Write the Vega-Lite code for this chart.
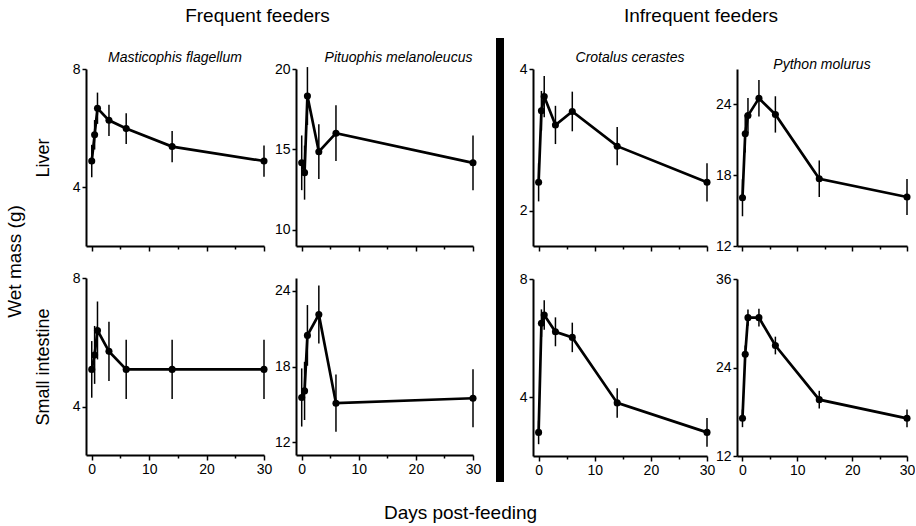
{
  "$schema": "https://vega.github.io/schema/vega-lite/v6.json",
  "padding": {"left": 6, "top": 7, "right": 0, "bottom": 0},
  "datasets": {
    "snakes": [
      {"species": "Masticophis flagellum", "tissue": "Liver", "day": 0, "mass": 4.88, "se": 0.55},
      {"species": "Masticophis flagellum", "tissue": "Liver", "day": 0.5, "mass": 5.77, "se": 0.5},
      {"species": "Masticophis flagellum", "tissue": "Liver", "day": 1, "mass": 6.67, "se": 0.53},
      {"species": "Masticophis flagellum", "tissue": "Liver", "day": 3, "mass": 6.26, "se": 0.53},
      {"species": "Masticophis flagellum", "tissue": "Liver", "day": 6, "mass": 5.98, "se": 0.52},
      {"species": "Masticophis flagellum", "tissue": "Liver", "day": 14, "mass": 5.37, "se": 0.53},
      {"species": "Masticophis flagellum", "tissue": "Liver", "day": 30, "mass": 4.88, "se": 0.53},
      {"species": "Pituophis melanoleucus", "tissue": "Liver", "day": 0, "mass": 14.17, "se": 1.7},
      {"species": "Pituophis melanoleucus", "tissue": "Liver", "day": 0.5, "mass": 13.56, "se": 1.68},
      {"species": "Pituophis melanoleucus", "tissue": "Liver", "day": 1, "mass": 18.32, "se": 1.8},
      {"species": "Pituophis melanoleucus", "tissue": "Liver", "day": 3, "mass": 14.86, "se": 1.7},
      {"species": "Pituophis melanoleucus", "tissue": "Liver", "day": 6, "mass": 16.01, "se": 1.73},
      {"species": "Pituophis melanoleucus", "tissue": "Liver", "day": 30, "mass": 14.17, "se": 1.7},
      {"species": "Crotalus cerastes", "tissue": "Liver", "day": 0, "mass": 2.4, "se": 0.27},
      {"species": "Crotalus cerastes", "tissue": "Liver", "day": 0.5, "mass": 3.41, "se": 0.28},
      {"species": "Crotalus cerastes", "tissue": "Liver", "day": 1, "mass": 3.61, "se": 0.29},
      {"species": "Crotalus cerastes", "tissue": "Liver", "day": 3, "mass": 3.21, "se": 0.27},
      {"species": "Crotalus cerastes", "tissue": "Liver", "day": 6, "mass": 3.4, "se": 0.28},
      {"species": "Crotalus cerastes", "tissue": "Liver", "day": 14, "mass": 2.91, "se": 0.27},
      {"species": "Crotalus cerastes", "tissue": "Liver", "day": 30, "mass": 2.4, "se": 0.27},
      {"species": "Python molurus", "tissue": "Liver", "day": 0, "mass": 16.09, "se": 1.57},
      {"species": "Python molurus", "tissue": "Liver", "day": 0.5, "mass": 21.52, "se": 1.6},
      {"species": "Python molurus", "tissue": "Liver", "day": 1, "mass": 23.05, "se": 1.5},
      {"species": "Python molurus", "tissue": "Liver", "day": 3, "mass": 24.52, "se": 1.54},
      {"species": "Python molurus", "tissue": "Liver", "day": 6, "mass": 23.15, "se": 1.54},
      {"species": "Python molurus", "tissue": "Liver", "day": 14, "mass": 17.7, "se": 1.55},
      {"species": "Python molurus", "tissue": "Liver", "day": 30, "mass": 16.15, "se": 1.53},
      {"species": "Masticophis flagellum", "tissue": "Small intestine", "day": 0, "mass": 5.16, "se": 0.88},
      {"species": "Masticophis flagellum", "tissue": "Small intestine", "day": 0.5, "mass": 5.61, "se": 0.9},
      {"species": "Masticophis flagellum", "tissue": "Small intestine", "day": 1, "mass": 6.37, "se": 0.9},
      {"species": "Masticophis flagellum", "tissue": "Small intestine", "day": 3, "mass": 5.72, "se": 0.92},
      {"species": "Masticophis flagellum", "tissue": "Small intestine", "day": 6, "mass": 5.16, "se": 0.92},
      {"species": "Masticophis flagellum", "tissue": "Small intestine", "day": 14, "mass": 5.16, "se": 0.92},
      {"species": "Masticophis flagellum", "tissue": "Small intestine", "day": 30, "mass": 5.16, "se": 0.92},
      {"species": "Pituophis melanoleucus", "tissue": "Small intestine", "day": 0, "mass": 15.55, "se": 2.3},
      {"species": "Pituophis melanoleucus", "tissue": "Small intestine", "day": 0.5, "mass": 16.07, "se": 2.3},
      {"species": "Pituophis melanoleucus", "tissue": "Small intestine", "day": 1, "mass": 20.46, "se": 2.4},
      {"species": "Pituophis melanoleucus", "tissue": "Small intestine", "day": 3, "mass": 22.11, "se": 2.3},
      {"species": "Pituophis melanoleucus", "tissue": "Small intestine", "day": 6, "mass": 15.1, "se": 2.27},
      {"species": "Pituophis melanoleucus", "tissue": "Small intestine", "day": 30, "mass": 15.49, "se": 2.3},
      {"species": "Crotalus cerastes", "tissue": "Small intestine", "day": 0, "mass": 2.8, "se": 0.4},
      {"species": "Crotalus cerastes", "tissue": "Small intestine", "day": 0.5, "mass": 6.5, "se": 0.47},
      {"species": "Crotalus cerastes", "tissue": "Small intestine", "day": 1, "mass": 6.78, "se": 0.5},
      {"species": "Crotalus cerastes", "tissue": "Small intestine", "day": 3, "mass": 6.21, "se": 0.49},
      {"species": "Crotalus cerastes", "tissue": "Small intestine", "day": 6, "mass": 6.02, "se": 0.5},
      {"species": "Crotalus cerastes", "tissue": "Small intestine", "day": 14, "mass": 3.8, "se": 0.5},
      {"species": "Crotalus cerastes", "tissue": "Small intestine", "day": 30, "mass": 2.8, "se": 0.49},
      {"species": "Python molurus", "tissue": "Small intestine", "day": 0, "mass": 17.11, "se": 1.2},
      {"species": "Python molurus", "tissue": "Small intestine", "day": 0.5, "mass": 25.78, "se": 1.2},
      {"species": "Python molurus", "tissue": "Small intestine", "day": 1, "mass": 30.76, "se": 1.1},
      {"species": "Python molurus", "tissue": "Small intestine", "day": 3, "mass": 30.76, "se": 1.2},
      {"species": "Python molurus", "tissue": "Small intestine", "day": 6, "mass": 26.98, "se": 1.2},
      {"species": "Python molurus", "tissue": "Small intestine", "day": 14, "mass": 19.64, "se": 1.2},
      {"species": "Python molurus", "tissue": "Small intestine", "day": 30, "mass": 17.11, "se": 1.2}
    ],
    "sep": [{"from": -1.333, "to": 1.175}]
  },
  "data": {"name": "snakes"},
  "title": {"text": "Days post-feeding", "orient": "bottom", "anchor": "middle", "fontSize": 19, "offset": 22},
  "spacing": 15,
  "hconcat": [
    {
      "title": {"text": "Wet mass (g)", "orient": "left", "anchor": "middle", "fontSize": 19, "offset": 9, "dx": -20},
      "hconcat": [
        {
          "title": {"text": "Frequent feeders", "anchor": "middle", "fontSize": 19, "offset": 25},
          "columns": 2,
          "spacing": {"row": 19, "column": 2},
          "concat": [
            {
              "width": 178, "height": 177,
              "title": {"text": "Masticophis flagellum", "fontStyle": "italic", "fontSize": 14, "frame": "group", "offset": -3},
              "transform": [{"filter": "datum.species == 'Masticophis flagellum' && datum.tissue == 'Liver'"}],
              "encoding": {
                "x": {"field": "day", "type": "quantitative", "scale": {"domain": [-1, 30], "nice": false, "zero": false}, "axis": {"title": null, "labels": false, "values": [0, 5, 10, 15, 20, 25, 30], "tickSize": {"condition": {"test": "datum.value % 10 === 0", "value": 5}, "value": 3}}},
                "y": {"field": "mass", "type": "quantitative", "scale": {"domain": [2, 8], "nice": false, "zero": false}, "axis": {"title": "Liver", "values": [4, 8]}}
              },
              "layer": [
                {"mark": {"type": "errorbar", "ticks": false, "thickness": 1.5, "color": "black"}, "encoding": {"yError": {"field": "se"}}},
                {"mark": {"type": "line", "color": "black", "strokeWidth": 2.7}},
                {"mark": {"type": "point", "filled": true, "color": "black", "size": 50, "opacity": 1}}
              ]
            },
            {
              "width": 177, "height": 177,
              "title": {"text": "Pituophis melanoleucus", "fontStyle": "italic", "fontSize": 14, "frame": "group", "offset": -3, "dx": 14},
              "transform": [{"filter": "datum.species == 'Pituophis melanoleucus' && datum.tissue == 'Liver'"}],
              "encoding": {
                "x": {"field": "day", "type": "quantitative", "scale": {"domain": [-1, 30], "nice": false, "zero": false}, "axis": {"title": null, "labels": false, "values": [0, 5, 10, 15, 20, 25, 30], "tickSize": {"condition": {"test": "datum.value % 10 === 0", "value": 5}, "value": 3}}},
                "y": {"field": "mass", "type": "quantitative", "scale": {"domain": [9, 20], "nice": false, "zero": false}, "axis": {"title": null, "values": [10, 15, 20]}}
              },
              "layer": [
                {"mark": {"type": "errorbar", "ticks": false, "thickness": 1.5, "color": "black"}, "encoding": {"yError": {"field": "se"}}},
                {"mark": {"type": "line", "color": "black", "strokeWidth": 2.7}},
                {"mark": {"type": "point", "filled": true, "color": "black", "size": 50, "opacity": 1}}
              ]
            },
            {
              "width": 178, "height": 177,
              "transform": [{"filter": "datum.species == 'Masticophis flagellum' && datum.tissue == 'Small intestine'"}],
              "encoding": {
                "x": {"field": "day", "type": "quantitative", "scale": {"domain": [-1, 30], "nice": false, "zero": false}, "axis": {"title": null, "values": [0, 5, 10, 15, 20, 25, 30], "labelExpr": "datum.value % 10 === 0 ? datum.label : ''", "tickSize": {"condition": {"test": "datum.value % 10 === 0", "value": 5}, "value": 3}}},
                "y": {"field": "mass", "type": "quantitative", "scale": {"domain": [2.5, 8], "nice": false, "zero": false}, "axis": {"title": "Small intestine", "values": [4, 8]}}
              },
              "layer": [
                {"mark": {"type": "errorbar", "ticks": false, "thickness": 1.5, "color": "black"}, "encoding": {"yError": {"field": "se"}}},
                {"mark": {"type": "line", "color": "black", "strokeWidth": 2.7}},
                {"mark": {"type": "point", "filled": true, "color": "black", "size": 50, "opacity": 1}}
              ]
            },
            {
              "width": 177, "height": 177,
              "transform": [{"filter": "datum.species == 'Pituophis melanoleucus' && datum.tissue == 'Small intestine'"}],
              "encoding": {
                "x": {"field": "day", "type": "quantitative", "scale": {"domain": [-1, 30], "nice": false, "zero": false}, "axis": {"title": null, "values": [0, 5, 10, 15, 20, 25, 30], "labelExpr": "datum.value % 10 === 0 ? datum.label : ''", "tickSize": {"condition": {"test": "datum.value % 10 === 0", "value": 5}, "value": 3}}},
                "y": {"field": "mass", "type": "quantitative", "scale": {"domain": [11, 25], "nice": false, "zero": false}, "axis": {"title": null, "values": [12, 18, 24]}}
              },
              "layer": [
                {"mark": {"type": "errorbar", "ticks": false, "thickness": 1.5, "color": "black"}, "encoding": {"yError": {"field": "se"}}},
                {"mark": {"type": "line", "color": "black", "strokeWidth": 2.7}},
                {"mark": {"type": "point", "filled": true, "color": "black", "size": 50, "opacity": 1}}
              ]
            }
          ]
        }
      ]
    },
    {
      "width": 8, "height": 177,
      "data": {"name": "sep"},
      "mark": {"type": "rect", "color": "black"},
      "encoding": {
        "y": {"field": "from", "type": "quantitative", "scale": {"domain": [0, 1], "nice": false}, "axis": null},
        "y2": {"field": "to"}
      }
    },
    {
      "title": {"text": "Infrequent feeders", "anchor": "middle", "fontSize": 19, "offset": 25, "dx": -16},
      "columns": 2,
      "spacing": {"row": 19, "column": 0},
      "concat": [
        {
          "width": 174, "height": 177,
          "title": {"text": "Crotalus cerastes", "fontStyle": "italic", "fontSize": 14, "frame": "group", "offset": -3, "dx": 10},
          "transform": [{"filter": "datum.species == 'Crotalus cerastes' && datum.tissue == 'Liver'"}],
          "encoding": {
            "x": {"field": "day", "type": "quantitative", "scale": {"domain": [-1, 30], "nice": false, "zero": false}, "axis": {"title": null, "labels": false, "values": [0, 5, 10, 15, 20, 25, 30], "tickSize": {"condition": {"test": "datum.value % 10 === 0", "value": 5}, "value": 3}}},
            "y": {"field": "mass", "type": "quantitative", "scale": {"domain": [1.5, 4], "nice": false, "zero": false}, "axis": {"title": null, "values": [2, 4]}}
          },
          "layer": [
            {"mark": {"type": "errorbar", "ticks": false, "thickness": 1.5, "color": "black"}, "encoding": {"yError": {"field": "se"}}},
            {"mark": {"type": "line", "color": "black", "strokeWidth": 2.7}},
            {"mark": {"type": "point", "filled": true, "color": "black", "size": 50, "opacity": 1}}
          ]
        },
        {
          "width": 170, "height": 177,
          "title": {"text": "Python molurus", "fontStyle": "italic", "fontSize": 14, "frame": "group", "offset": -3},
          "transform": [{"filter": "datum.species == 'Python molurus' && datum.tissue == 'Liver'"}],
          "encoding": {
            "x": {"field": "day", "type": "quantitative", "scale": {"domain": [-1, 30], "nice": false, "zero": false}, "axis": {"title": null, "labels": false, "values": [0, 5, 10, 15, 20, 25, 30], "tickSize": {"condition": {"test": "datum.value % 10 === 0", "value": 5}, "value": 3}}},
            "y": {"field": "mass", "type": "quantitative", "scale": {"domain": [12, 27], "nice": false, "zero": false}, "axis": {"title": null, "values": [12, 18, 24]}}
          },
          "layer": [
            {"mark": {"type": "errorbar", "ticks": false, "thickness": 1.5, "color": "black"}, "encoding": {"yError": {"field": "se"}}},
            {"mark": {"type": "line", "color": "black", "strokeWidth": 2.7}},
            {"mark": {"type": "point", "filled": true, "color": "black", "size": 50, "opacity": 1}}
          ]
        },
        {
          "width": 174, "height": 177,
          "transform": [{"filter": "datum.species == 'Crotalus cerastes' && datum.tissue == 'Small intestine'"}],
          "encoding": {
            "x": {"field": "day", "type": "quantitative", "scale": {"domain": [-1, 30], "nice": false, "zero": false}, "axis": {"title": null, "values": [0, 5, 10, 15, 20, 25, 30], "labelExpr": "datum.value % 10 === 0 ? datum.label : ''", "tickSize": {"condition": {"test": "datum.value % 10 === 0", "value": 5}, "value": 3}}},
            "y": {"field": "mass", "type": "quantitative", "scale": {"domain": [2, 8], "nice": false, "zero": false}, "axis": {"title": null, "values": [4, 8]}}
          },
          "layer": [
            {"mark": {"type": "errorbar", "ticks": false, "thickness": 1.5, "color": "black"}, "encoding": {"yError": {"field": "se"}}},
            {"mark": {"type": "line", "color": "black", "strokeWidth": 2.7}},
            {"mark": {"type": "point", "filled": true, "color": "black", "size": 50, "opacity": 1}}
          ]
        },
        {
          "width": 170, "height": 177,
          "transform": [{"filter": "datum.species == 'Python molurus' && datum.tissue == 'Small intestine'"}],
          "encoding": {
            "x": {"field": "day", "type": "quantitative", "scale": {"domain": [-1, 30], "nice": false, "zero": false}, "axis": {"title": null, "values": [0, 5, 10, 15, 20, 25, 30], "labelExpr": "datum.value % 10 === 0 ? datum.label : ''", "tickSize": {"condition": {"test": "datum.value % 10 === 0", "value": 5}, "value": 3}}},
            "y": {"field": "mass", "type": "quantitative", "scale": {"domain": [12, 36], "nice": false, "zero": false}, "axis": {"title": null, "values": [12, 24, 36]}}
          },
          "layer": [
            {"mark": {"type": "errorbar", "ticks": false, "thickness": 1.5, "color": "black"}, "encoding": {"yError": {"field": "se"}}},
            {"mark": {"type": "line", "color": "black", "strokeWidth": 2.7}},
            {"mark": {"type": "point", "filled": true, "color": "black", "size": 50, "opacity": 1}}
          ]
        }
      ]
    }
  ],
  "config": {
    "font": "Liberation Sans",
    "view": {"stroke": null},
    "axis": {
      "grid": false,
      "domainColor": "black",
      "domainWidth": 2,
      "tickColor": "black",
      "tickWidth": 1.5,
      "tickSize": 4,
      "labelFont": "Liberation Sans",
      "labelFontSize": 14,
      "labelColor": "black",
      "labelPadding": 2,
      "labelFlush": false,
      "labelOverlap": false,
      "titleFont": "Liberation Sans",
      "titleFontSize": 18,
      "titleFontWeight": "normal",
      "titleColor": "black",
      "titlePadding": 20
    },
    "title": {"font": "Liberation Sans", "color": "black", "fontWeight": "normal"}
  }
}
